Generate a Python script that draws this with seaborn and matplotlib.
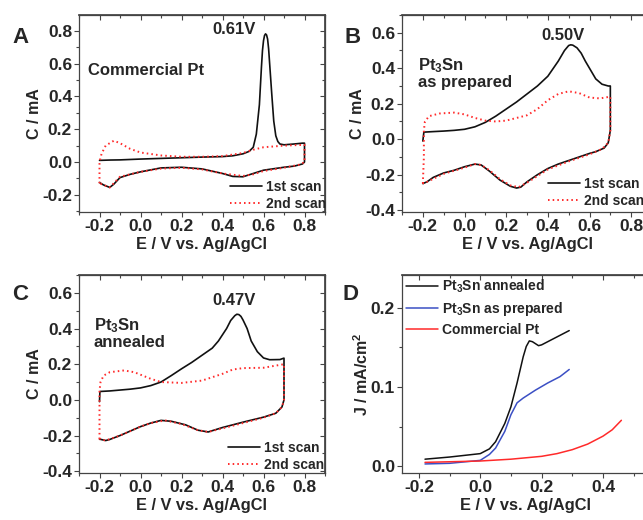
import matplotlib
matplotlib.use("Agg")
import matplotlib.pyplot as plt
import seaborn as sns
from matplotlib.ticker import MultipleLocator, FormatStrFormatter

# Panel A: commercial Pt
a_e1 = [-0.2, -0.15, -0.1, 0.0, 0.1, 0.2, 0.3, 0.4, 0.45, 0.5, 0.53, 0.55, 0.565, 0.58, 0.59, 0.595,
        0.6, 0.605, 0.61, 0.615, 0.62, 0.625, 0.63, 0.64, 0.65, 0.66, 0.67, 0.68, 0.7, 0.75, 0.79,
        0.8, 0.8, 0.8, 0.79, 0.75, 0.7, 0.6, 0.55, 0.5, 0.45, 0.4, 0.3, 0.2, 0.1, 0.0, -0.05, -0.1,
        -0.13, -0.15, -0.18, -0.2]
a_c1 = [0.01, 0.012, 0.013, 0.018, 0.022, 0.026, 0.03, 0.033, 0.038, 0.05, 0.065, 0.09, 0.17, 0.35, 0.58, 0.68,
        0.74, 0.772, 0.782, 0.775, 0.75, 0.69, 0.6, 0.42, 0.25, 0.16, 0.125, 0.11, 0.105, 0.11, 0.115,
        0.115, 0.05, 0.0, -0.012, -0.025, -0.032, -0.05, -0.07, -0.09, -0.088, -0.07, -0.042, -0.032, -0.036, -0.06, -0.075, -0.095,
        -0.135, -0.155, -0.14, -0.125]
a_e2 = [-0.2, -0.2, -0.2, -0.19, -0.17, -0.13, -0.1, -0.05, 0.0, 0.1, 0.2, 0.3, 0.4, 0.5, 0.55, 0.6,
        0.7, 0.8, 0.8, 0.78, 0.7, 0.6, 0.55, 0.5, 0.4, 0.3, 0.2, 0.1, 0.0, -0.1, -0.15, -0.2]
a_c2 = [-0.13, -0.05, 0.0, 0.05, 0.1, 0.13, 0.115, 0.08, 0.058, 0.04, 0.032, 0.032, 0.036, 0.055, 0.075, 0.09,
        0.1, 0.105, 0.0, -0.015, -0.035, -0.055, -0.075, -0.085, -0.07, -0.045, -0.035, -0.04, -0.06, -0.09, -0.155, -0.13]

# Panel B: Pt3Sn as prepared
b_e1 = [-0.2, -0.195, -0.15, -0.1, -0.05, 0.0, 0.05, 0.1, 0.15, 0.2, 0.25, 0.3, 0.35, 0.4, 0.45, 0.48,
        0.5, 0.51, 0.52, 0.54, 0.56, 0.58, 0.6, 0.63, 0.66, 0.69, 0.7, 0.7, 0.7, 0.69, 0.67, 0.63, 0.6,
        0.55, 0.5, 0.45, 0.4, 0.35, 0.3, 0.27, 0.25, 0.22, 0.17, 0.12, 0.08, 0.05, 0.0, -0.05, -0.1,
        -0.15, -0.18, -0.2]
b_c1 = [-0.01, 0.04, 0.043, 0.046, 0.05, 0.056, 0.07, 0.095, 0.13, 0.17, 0.21, 0.255, 0.3, 0.355, 0.44, 0.5,
        0.528, 0.532, 0.53, 0.515, 0.485, 0.44, 0.4, 0.34, 0.31, 0.3, 0.3, 0.15, 0.05, -0.02, -0.05, -0.07, -0.08,
        -0.1, -0.12, -0.14, -0.165, -0.2, -0.24, -0.27, -0.275, -0.265, -0.23, -0.18, -0.145, -0.14, -0.155, -0.175, -0.19,
        -0.215, -0.24, -0.25]
b_e2 = [-0.2, -0.195, -0.195, -0.19, -0.17, -0.12, -0.05, 0.0, 0.05, 0.1, 0.15, 0.2, 0.25, 0.3, 0.35, 0.4,
        0.45, 0.5, 0.55, 0.6, 0.65, 0.7, 0.7, 0.69, 0.66, 0.6, 0.5, 0.4, 0.3, 0.26, 0.22, 0.17, 0.12, 0.08,
        0.05, 0.0, -0.1, -0.18, -0.2]
b_c2 = [-0.25, -0.1, 0.05, 0.1, 0.13, 0.145, 0.15, 0.14, 0.12, 0.105, 0.1, 0.105, 0.12, 0.135, 0.17, 0.22,
        0.255, 0.27, 0.26, 0.235, 0.23, 0.24, 0.05, -0.02, -0.055, -0.085, -0.125, -0.17, -0.245, -0.27, -0.26, -0.225, -0.175, -0.145,
        -0.14, -0.16, -0.195, -0.24, -0.25]

# Panel C: Pt3Sn annealed
c_e1 = [-0.2, -0.198, -0.15, -0.05, 0.0, 0.05, 0.1, 0.15, 0.2, 0.25, 0.3, 0.35, 0.38, 0.42, 0.44, 0.46,
        0.47, 0.48, 0.49, 0.5, 0.52, 0.54, 0.57, 0.6, 0.63, 0.68, 0.7, 0.7, 0.7, 0.69, 0.66, 0.6, 0.5,
        0.4, 0.33, 0.28, 0.22, 0.15, 0.1, 0.05, 0.0, -0.05, -0.1, -0.15, -0.17, -0.2]
c_c1 = [-0.01, 0.047, 0.05, 0.06, 0.067, 0.08, 0.1, 0.136, 0.174, 0.21, 0.25, 0.29, 0.33, 0.4, 0.445, 0.472,
        0.48, 0.478, 0.468, 0.448, 0.4, 0.33, 0.27, 0.235, 0.225, 0.226, 0.234, 0.1, 0.0, -0.04, -0.075, -0.097, -0.125,
        -0.155, -0.18, -0.17, -0.14, -0.12, -0.115, -0.13, -0.15, -0.175, -0.2, -0.222, -0.228, -0.22]
c_e2 = [-0.2, -0.2, -0.2, -0.195, -0.18, -0.15, -0.08, -0.03, 0.05, 0.1, 0.2, 0.3, 0.4, 0.45, 0.5, 0.6,
        0.7, 0.7, 0.69, 0.66, 0.6, 0.5, 0.4, 0.33, 0.28, 0.2, 0.12, 0.05, 0.0, -0.1, -0.17, -0.2]
c_c2 = [-0.22, -0.1, 0.05, 0.1, 0.136, 0.155, 0.165, 0.155, 0.118, 0.1, 0.095, 0.108, 0.146, 0.17, 0.178, 0.18,
        0.2, 0.0, -0.04, -0.075, -0.1, -0.13, -0.16, -0.18, -0.17, -0.135, -0.115, -0.13, -0.15, -0.2, -0.228, -0.22]

# Panel D: linear sweeps
d_e_ann = [-0.18, -0.1, 0.0, 0.03, 0.05, 0.08, 0.1, 0.12, 0.14, 0.15, 0.16, 0.17, 0.19, 0.2, 0.25, 0.29]
d_j_ann = [0.009, 0.0117, 0.016, 0.022, 0.031, 0.054, 0.075, 0.105, 0.138, 0.151, 0.158, 0.157, 0.152, 0.153, 0.163, 0.171]
d_e_prep = [-0.18, -0.1, 0.0, 0.03, 0.05, 0.08, 0.1, 0.12, 0.14, 0.18, 0.22, 0.26, 0.29]
d_j_prep = [0.003, 0.0038, 0.0075, 0.015, 0.023, 0.044, 0.065, 0.08, 0.086, 0.096, 0.105, 0.113, 0.122]
d_e_pt = [-0.18, 0.0, 0.1, 0.2, 0.25, 0.3, 0.35, 0.4, 0.43, 0.46]
d_j_pt = [0.005, 0.0067, 0.009, 0.0126, 0.016, 0.021, 0.028, 0.038, 0.046, 0.058]

sns.set_theme(style="ticks")
plt.rcParams["font.family"] = ["Liberation Sans", "DejaVu Sans"]
plt.rcParams["font.weight"] = "bold"
plt.rcParams["axes.labelweight"] = "bold"
plt.rcParams["mathtext.fontset"] = "custom"
plt.rcParams["mathtext.bf"] = "Liberation Sans:bold"
plt.rcParams["mathtext.rm"] = "Liberation Sans:bold"
plt.rcParams["mathtext.default"] = "bf"

W, H = 643, 520
fig = plt.figure(figsize=(W / 100, H / 100), dpi=100)
frame = "#444444"
red = "#ff2a2a"
dots = (0, (0.8, 1.6))


def px_axes(left, top, width, height):
    return fig.add_axes([left / W, 1 - (top + height) / H, width / W, height / H])


def style_axes(ax, xlim, ylim, xmaj, ymaj, ylabel):
    ax.set_xlim(*xlim)
    ax.set_ylim(*ylim)
    ax.xaxis.set_major_locator(MultipleLocator(xmaj))
    ax.xaxis.set_minor_locator(MultipleLocator(xmaj / 2))
    ax.yaxis.set_major_locator(MultipleLocator(ymaj))
    ax.yaxis.set_minor_locator(MultipleLocator(ymaj / 2))
    ax.xaxis.set_major_formatter(FormatStrFormatter("%.1f"))
    ax.yaxis.set_major_formatter(FormatStrFormatter("%.1f"))
    ax.tick_params(which="both", direction="out", color=frame, width=0.8, labelsize=12.5, pad=1.5)
    ax.tick_params(which="major", length=3.5)
    ax.tick_params(which="minor", length=2)
    for s in ax.spines.values():
        s.set_color(frame)
        s.set_linewidth(0.9)
    for lab in ax.get_xticklabels() + ax.get_yticklabels():
        lab.set_fontweight("bold")
    # inward ticks on top and right
    top = ax.secondary_xaxis("top")
    top.xaxis.set_major_locator(MultipleLocator(xmaj))
    top.xaxis.set_minor_locator(MultipleLocator(xmaj / 2))
    top.tick_params(which="both", direction="in", color=frame, width=0.8, labeltop=False)
    top.tick_params(which="major", length=3.5)
    top.tick_params(which="minor", length=2)
    top.spines["top"].set_color(frame)
    right = ax.secondary_yaxis("right")
    right.yaxis.set_major_locator(MultipleLocator(ymaj))
    right.yaxis.set_minor_locator(MultipleLocator(ymaj / 2))
    right.tick_params(which="both", direction="in", color=frame, width=0.8, labelright=False)
    right.tick_params(which="major", length=3.5)
    right.tick_params(which="minor", length=2)
    right.spines["right"].set_color(frame)
    ax.set_xlabel("E / V vs. Ag/AgCl", fontsize=11.8, fontweight="bold", labelpad=2)
    ax.set_ylabel(ylabel, fontsize=11.5, fontweight="bold", labelpad=0)


def cv_panel(ax, e1, c1, e2, c2, xlim, ylim, leg_x, leg_y):
    sns.lineplot(x=e1, y=c1, ax=ax, sort=False, estimator=None, color="#111111", linewidth=1.2, label="1st scan")
    sns.lineplot(x=e2, y=c2, ax=ax, sort=False, estimator=None, color=red, linewidth=1.4,
                 linestyle=dots, label="2nd scan")
    style_axes(ax, xlim, ylim, 0.2, 0.2, "C / mA")
    ax.legend(loc="lower left", bbox_to_anchor=(leg_x, leg_y), frameon=False, fontsize=10,
              handlelength=2.3, handletextpad=0.3, labelspacing=0.25, borderpad=0, borderaxespad=0)


axA = px_axes(79, 15, 246, 197)
cv_panel(axA, a_e1, a_c1, a_e2, a_c2, (-0.3, 0.9), (-0.305, 0.897), 0.615, 0.005)
axA.text(0.457, 0.81, "0.61V", ha="center", va="center", fontsize=12, fontweight="bold")
axA.text(-0.258, 0.56, "Commercial Pt", ha="left", va="center", fontsize=12, fontweight="bold")

axB = px_axes(402, 15, 250, 197)
cv_panel(axB, b_e1, b_c1, b_e2, b_c2, (-0.3, 0.9), (-0.41, 0.70), 0.585, 0.02)
axB.text(0.471, 0.583, "0.50V", ha="center", va="center", fontsize=12, fontweight="bold")
axB.text(-0.224, 0.47, "Pt$_3$Sn\nas prepared", ha="left", va="top", fontsize=12, fontweight="bold",
         linespacing=1.05)

axC = px_axes(79, 275, 246, 198)
cv_panel(axC, c_e1, c_c1, c_e2, c_c2, (-0.3, 0.9), (-0.41, 0.70), 0.605, 0.005)
axC.text(0.457, 0.555, "0.47V", ha="center", va="center", fontsize=12, fontweight="bold")
axC.text(-0.229, 0.47, "Pt$_3$Sn\nannealed", ha="left", va="top", fontsize=12, fontweight="bold",
         linespacing=1.05)

axD = px_axes(402, 275, 247, 198)
sns.lineplot(x=d_e_ann, y=d_j_ann, ax=axD, sort=False, estimator=None, color="#111111", linewidth=1.1,
             label="Pt$_3$Sn annealed")
sns.lineplot(x=d_e_prep, y=d_j_prep, ax=axD, sort=False, estimator=None, color="#3b4fc4", linewidth=1.1,
             label="Pt$_3$Sn as prepared")
sns.lineplot(x=d_e_pt, y=d_j_pt, ax=axD, sort=False, estimator=None, color=red, linewidth=1.1,
             label="Commercial Pt")
style_axes(axD, (-0.255, 0.55), (-0.0084, 0.241), 0.2, 0.1, "J / mA/cm$^2$")
axD.legend(loc="upper left", bbox_to_anchor=(0.015, 0.985), frameon=False, fontsize=10,
           handlelength=2.3, handletextpad=0.3, labelspacing=0.35, borderpad=0, borderaxespad=0)

for letter, x, y in [("A", 12, 43), ("B", 345, 43), ("C", 12, 300), ("D", 342, 300)]:
    fig.text(x / W, 1 - y / H, letter, fontsize=16, fontweight="bold", ha="left", va="baseline")

fig.savefig("out.png", dpi=100)
